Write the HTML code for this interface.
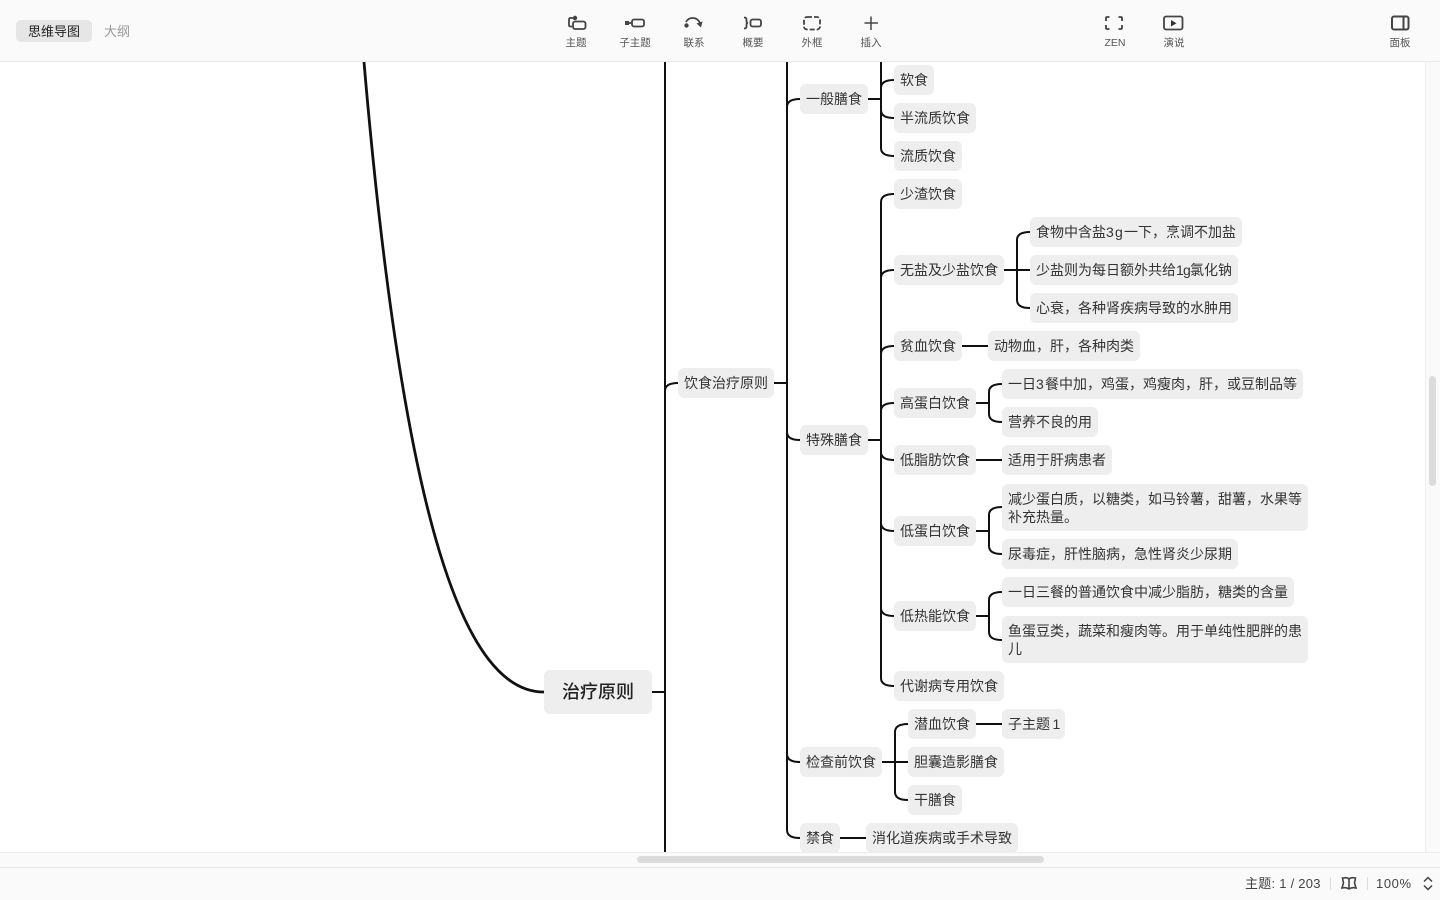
<!DOCTYPE html>
<html lang="zh-CN">
<head>
<meta charset="utf-8">
<title>思维导图</title>
<style>
html,body{margin:0;padding:0;width:1440px;height:900px;overflow:hidden;background:#fff}
body{position:relative;font-family:"Liberation Sans","Noto Sans CJK SC",sans-serif;color:#333}
#canvas{position:absolute;left:0;top:62px;width:1425px;height:790px;overflow:hidden;background:#fff}
#canvas svg{position:absolute;left:0;top:-62px}
.n{position:absolute;box-sizing:border-box;height:30px;line-height:18px;padding:6px;font-size:14px;background:#eee;border-radius:6px;white-space:nowrap;color:#333;margin-top:-62px}
.m{height:47px;white-space:normal;padding:5.500px 6px}
.root{height:44px;line-height:44px;padding:0;text-align:center;font-size:18px;font-weight:500;border-radius:6px;color:#222}
#top{position:absolute;left:0;top:0;width:1440px;height:62px;box-sizing:border-box;background:#fafafa;border-bottom:1px solid #e8e8e8}
.pill{position:absolute;left:16px;top:20px;width:76px;height:22px;line-height:23px;text-align:center;font-size:13px;color:#222;background:#e6e6e6;border-radius:5px}
.tab{position:absolute;left:104px;top:20px;line-height:23px;font-size:13px;color:#999}
.lb{position:absolute;top:36px;width:60px;margin-left:-30px;text-align:center;font-size:10.5px;line-height:14px;color:#555}
#top svg{position:absolute;left:0;top:0}
#vs{position:absolute;left:1425px;top:62px;width:15px;height:790px;box-sizing:border-box;background:#fafafa;border-left:1px solid #eee}
#vt{position:absolute;left:1429px;top:376px;width:7px;height:110px;background:#dcdcdc;border-radius:4px}
#hs{position:absolute;left:0;top:852px;width:1440px;height:15px;box-sizing:border-box;background:#fafafa;border-top:1px solid #eee}
#ht{position:absolute;left:637px;top:856px;width:407px;height:7px;background:#dcdcdc;border-radius:4px}
#st{position:absolute;left:0;top:867px;width:1440px;height:33px;box-sizing:border-box;background:#fafafa;border-top:1px solid #e8e8e8}
.s{position:absolute;top:875px;font-size:13px;line-height:18px;color:#444;white-space:nowrap}
.d{position:absolute;top:877px;width:1px;height:13px;background:#ddd}
</style>
</head>
<body>
<div id="canvas">
<svg width="1425" height="852" viewBox="0 0 1425 852" fill="none" stroke="#111" stroke-width="2">
<path d="M544 692C466 692 404 530 364 62" stroke-width="2.800"/>
<path d="M652 692H665M665 62V852M678 383Q665 383 665 391"/>
<path d="M774 383H787M787 62V830Q787 838 800 838M800 99Q787 99 787 107M800 440Q787 440 787 432M800 762Q787 762 787 754"/>
<path d="M868 99H881M881 62V148Q881 156 894 156M894 80Q881 80 881 88M894 118Q881 118 881 110"/>
<path d="M868 440H881M894 194Q881 194 881 202V678Q881 686 894 686M894 270Q881 270 881 278M894 346Q881 346 881 354M894 403Q881 403 881 411M894 460Q881 460 881 452M894 531Q881 531 881 523M894 616Q881 616 881 608"/>
<path d="M1004 270H1030M1030 232Q1017 232 1017 240V300Q1017 308 1030 308"/>
<path d="M962 346H988"/>
<path d="M976 403H989M1002 384Q989 384 989 392V414Q989 422 1002 422"/>
<path d="M976 460H1002"/>
<path d="M976 531H989M1002 507Q989 507 989 515V546Q989 554 1002 554"/>
<path d="M976 616H989M1002 592Q989 592 989 600V632Q989 640 1002 640"/>
<path d="M882 762H908M908 724Q895 724 895 732V792Q895 800 908 800"/>
<path d="M976 724H1002"/>
<path d="M840 838H866"/>
</svg>
<div class="n root" style="left:544px;top:670px;width:108px">治疗原则</div>
<div class="n" style="left:678px;top:368px">饮食治疗原则</div>
<div class="n" style="left:800px;top:84px">一般膳食</div>
<div class="n" style="left:800px;top:425px">特殊膳食</div>
<div class="n" style="left:800px;top:747px">检查前饮食</div>
<div class="n" style="left:800px;top:823px">禁食</div>
<div class="n" style="left:866px;top:823px">消化道疾病或手术导致</div>
<div class="n" style="left:894px;top:65px">软食</div>
<div class="n" style="left:894px;top:103px">半流质饮食</div>
<div class="n" style="left:894px;top:141px">流质饮食</div>
<div class="n" style="left:894px;top:179px">少渣饮食</div>
<div class="n" style="left:894px;top:255px">无盐及少盐饮食</div>
<div class="n" style="left:1030px;top:217px;width:212px">食物中含盐<span style="letter-spacing:1.200px">3g</span>一下，烹调不加盐</div>
<div class="n" style="left:1030px;top:255px;width:208px">少盐则为每日额外共给<span style="letter-spacing:-.800px">1g</span>氯化钠</div>
<div class="n" style="left:1030px;top:293px">心衰，各种肾疾病导致的水肿用</div>
<div class="n" style="left:894px;top:331px">贫血饮食</div>
<div class="n" style="left:988px;top:331px">动物血，肝，各种肉类</div>
<div class="n" style="left:894px;top:388px">高蛋白饮食</div>
<div class="n" style="left:1002px;top:369px;width:301px">一日<span style="letter-spacing:1.200px">3</span>餐中加，鸡蛋，鸡瘦肉，肝，或豆制品等</div>
<div class="n" style="left:1002px;top:407px">营养不良的用</div>
<div class="n" style="left:894px;top:445px">低脂肪饮食</div>
<div class="n" style="left:1002px;top:445px">适用于肝病患者</div>
<div class="n" style="left:894px;top:516px">低蛋白饮食</div>
<div class="n m" style="left:1002px;top:484px;width:306px">减少蛋白质，以糖类，如马铃薯，甜薯，水果等补充热量。</div>
<div class="n" style="left:1002px;top:539px">尿毒症，肝性脑病，急性肾炎少尿期</div>
<div class="n" style="left:894px;top:601px">低热能饮食</div>
<div class="n" style="left:1002px;top:577px">一日三餐的普通饮食中减少脂肪，糖类的含量</div>
<div class="n m" style="left:1002px;top:616px;width:306px">鱼蛋豆类，蔬菜和瘦肉等。用于单纯性肥胖的患儿</div>
<div class="n" style="left:894px;top:671px">代谢病专用饮食</div>
<div class="n" style="left:908px;top:709px">潜血饮食</div>
<div class="n" style="left:1002px;top:709px;width:63px">子主题<span style="letter-spacing:-1.400px"> 1</span></div>
<div class="n" style="left:908px;top:747px">胆囊造影膳食</div>
<div class="n" style="left:908px;top:785px">干膳食</div>
</div>

<div id="top">
<div class="pill">思维导图</div>
<div class="tab">大纲</div>
<svg width="1440" height="61" viewBox="0 0 1440 61" fill="none" stroke="#444" stroke-width="1.800">
<circle cx="575" cy="18" r="2.200" fill="#444" stroke="none"/>
<path d="M575 18H570.500Q569 18 569 19.500V25Q569 26.500 570.500 26.500H572"/>
<rect x="573" y="21.500" width="12.500" height="7.500" rx="2"/>
<rect x="625" y="21" width="4" height="4" fill="#444" stroke="none"/>
<path d="M629 23H632"/>
<rect x="632" y="19.500" width="12" height="7" rx="2"/>
<circle cx="686.500" cy="25.500" r="2.200" fill="#444" stroke="none"/>
<path d="M686 22C689 16.500 697 16.500 700 23"/>
<path d="M696.500 23.500L702.500 21.500L701 27.500Z" fill="#444" stroke="none"/>
<path d="M744 17.500Q746.500 17.500 746.500 19.500V21.500Q746.500 23 748 23Q746.500 23 746.500 24.500V26.500Q746.500 28.500 744 28.500"/>
<rect x="750.500" y="19.500" width="10.500" height="7" rx="2"/>
<rect x="804" y="17" width="16" height="12.500" rx="3" stroke-width="1.800" stroke-dasharray="5 2"/>
<path d="M871 16.500V30M864.500 23H878" stroke-width="1.500"/>
<path d="M1106 21V18Q1106 17 1107 17H1109.500M1118.500 17H1121Q1122 17 1122 18V21M1106 25V28Q1106 29 1107 29H1109.500M1118.500 29H1121Q1122 29 1122 28V25"/>
<rect x="1164" y="16.500" width="18.500" height="13" rx="2"/>
<path d="M1171 20V26.500L1176.500 23.200Z" fill="#333" stroke="none"/>
<rect x="1392" y="16.500" width="16.500" height="13" rx="2" stroke-width="2"/>
<path d="M1403.500 16.500V29.500" stroke-width="2"/>
</svg>
<div class="lb" style="left:576px">主题</div>
<div class="lb" style="left:635px">子主题</div>
<div class="lb" style="left:694px">联系</div>
<div class="lb" style="left:753px">概要</div>
<div class="lb" style="left:812px">外框</div>
<div class="lb" style="left:871px">插入</div>
<div class="lb" style="left:1115px">ZEN</div>
<div class="lb" style="left:1174px">演说</div>
<div class="lb" style="left:1400px">面板</div>
</div>

<div id="vs"></div>
<div id="hs"></div>
<div id="vt"></div>
<div id="ht"></div>
<div id="st"></div>
<div class="s" style="left:1245px;letter-spacing:.250px">主题: 1 / 203</div>
<div class="d" style="left:1330px"></div>
<svg style="position:absolute;left:1340px;top:875px" width="18" height="16" viewBox="0 0 18 16" fill="none" stroke="#444" stroke-width="1.600">
<path d="M9 4V14M9 4C7.500 2.500 5 2.500 3 3L2.500 3V3L3.500 8L2 13C4.500 12.500 7 12.500 9 14C11 12.500 13.500 12.500 16 13L14.500 8L15.500 3C13 2.500 10.500 2.500 9 4Z"/>
</svg>
<div class="d" style="left:1367px"></div>
<div class="s" style="left:1376px;letter-spacing:.600px">100%</div>
<svg style="position:absolute;left:1421px;top:875px" width="14" height="17" viewBox="0 0 14 17" fill="none" stroke="#444" stroke-width="1.500">
<path d="M3 6.500L7 2.500L11 6.500M3 10.500L7 14.500L11 10.500"/>
</svg>
</body>
</html>
